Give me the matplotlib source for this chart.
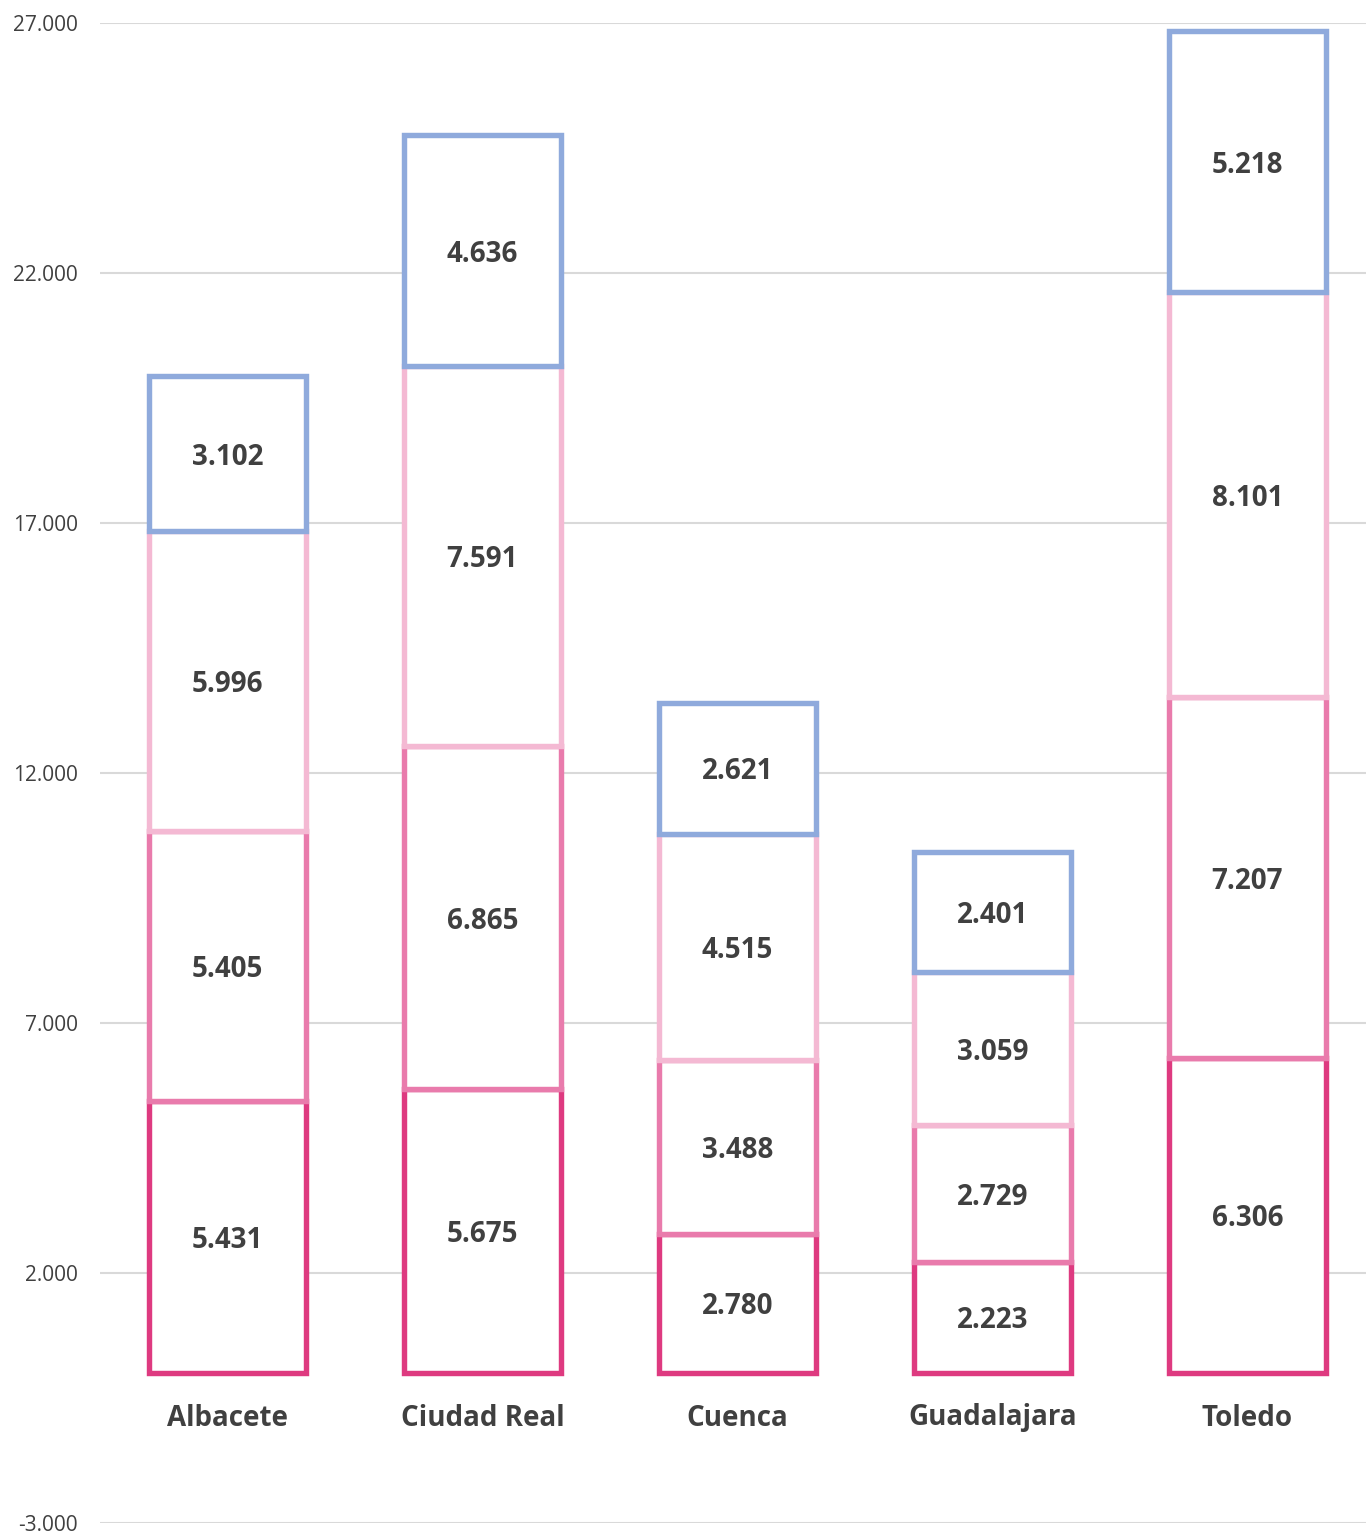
import matplotlib
matplotlib.use("Agg")
from matplotlib import pyplot as plt
import numpy as np

provincias = ["Albacete", "Ciudad Real", "Cuenca", "Guadalajara", "Toledo"]
serie1 = [5431, 5675, 2780, 2223, 6306]
serie2 = [5405, 6865, 3488, 2729, 7207]
serie3 = [5996, 7591, 4515, 3059, 8101]
serie4 = [3102, 4636, 2621, 2401, 5218]

series = [serie1, serie2, serie3, serie4]
colores = ["#DE3A80", "#E97BAC", "#F4B9D3", "#8FAADC"]
gris = "#404040"

plt.rcParams["font.family"] = ["Open Sans", "DejaVu Sans"]

fig = plt.figure(figsize=(13.66, 15.33), dpi=100)
ax = fig.add_axes([100 / 1366, 10 / 1533, 1266 / 1366, 1500 / 1533])

x = np.arange(len(provincias))
base = np.zeros(len(provincias))
for valores, color in zip(series, colores):
    ax.bar(x, valores, bottom=base, width=0.615, color="white",
           edgecolor=color, linewidth=3.9, zorder=3)
    for xi, b, v in zip(x, base, valores):
        ax.text(xi, b + v / 2, f"{v:,}".replace(",", "."), ha="center",
                va="center_baseline", fontsize=20, fontweight="bold",
                color=gris, zorder=4)
    base = base + np.array(valores)

# nombres de provincias debajo de las barras
for xi, nombre in zip(x, provincias):
    ax.text(xi, -1050, nombre, ha="center", va="baseline", fontsize=20,
            fontweight="bold", color=gris)

ax.set_xlim(-0.5, 4.465)
ax.set_ylim(-3000, 27000)
ax.set_yticks(range(-3000, 27001, 5000))
ax.set_yticklabels([f"{t:,}".replace(",", ".") for t in range(-3000, 27001, 5000)])
ax.set_xticks([])
ax.tick_params(axis="y", length=0, pad=16, labelsize=15, labelcolor=gris)
for s in ax.spines.values():
    s.set_visible(False)
ax.grid(True, axis="y", color="#D9D9D9", linewidth=1.5, zorder=0)
ax.set_axisbelow(True)

fig.savefig("out.png", dpi=100)
